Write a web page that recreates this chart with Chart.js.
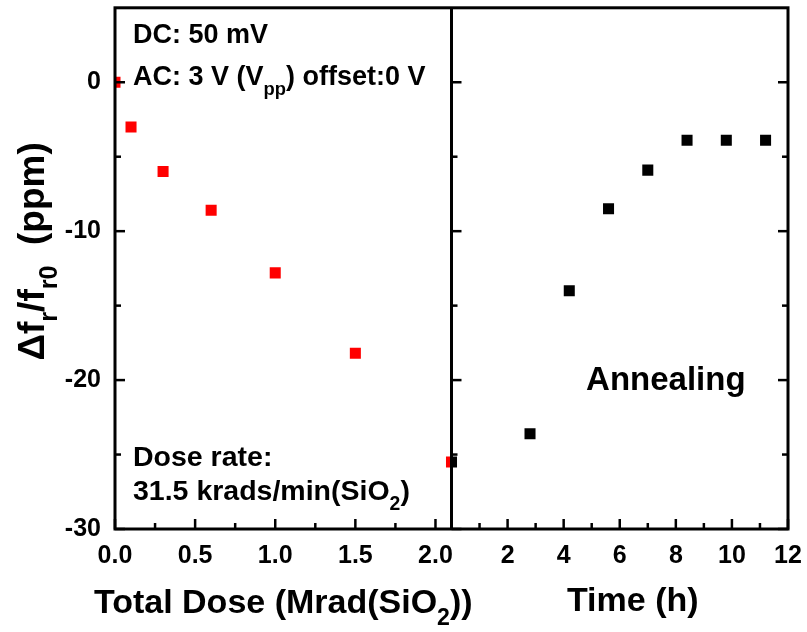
<!DOCTYPE html>
<html><head><meta charset="utf-8">
<script src="https://cdn.jsdelivr.net/npm/chart.js@4.4.0/dist/chart.umd.min.js"></script>
<style>html,body{margin:0;padding:0;background:#fff;} #wrap{width:807px;height:632px;position:relative;}</style>
</head><body><div id="wrap"><canvas id="c" width="807" height="632"></canvas></div>
<script>
// ---- data ----
const doseX = [0, 0.1, 0.3, 0.6, 1.0, 1.5, 2.1];
const doseY = [0, -3.0, -6.0, -8.6, -12.8, -18.2, -25.5];
const timeX = [0, 2.8, 4.2, 5.6, 7.0, 8.4, 9.8, 11.2];
const timeY = [-25.5, -23.6, -14.0, -8.5, -5.9, -3.9, -3.9, -3.9];
const yTicks = [-30, -20, -10, 0];
const yMinorTicks = [-25, -15, -5];
const doseTicks = [0, 0.5, 1.0, 1.5, 2.0];
const doseMinorTicks = [0.25, 0.75, 1.25, 1.75];
const timeTicks = [2, 4, 6, 8, 10, 12];
const timeMinorTicks = [1, 3, 5, 7, 9, 11];

const FONT = "'Liberation Sans', Arial, Helvetica, sans-serif";

function richWidth(ctx, segs, size) {
  let w = 0;
  segs.forEach(s => { ctx.font = `bold ${s.sub ? size * 0.68 : size}px ${FONT}`; w += ctx.measureText(s.t).width; });
  return w;
}
function drawRich(ctx, segs, x, y, size, center) {
  let cx = center ? x - richWidth(ctx, segs, size) / 2 : x;
  ctx.textAlign = 'left'; ctx.textBaseline = 'alphabetic'; ctx.fillStyle = '#000';
  segs.forEach(s => {
    ctx.font = `bold ${s.sub ? size * 0.68 : size}px ${FONT}`;
    ctx.fillText(s.t, cx, s.sub ? y + size * 0.36 : y);
    cx += ctx.measureText(s.t).width;
  });
}

const framePlugin = {
  id: 'frame',
  afterDatasetsDraw(chart) {
    const { ctx, chartArea: a, scales } = chart;
    const y = scales.y, xd = scales.xDose, xt = scales.xTime;
    ctx.save();
    ctx.strokeStyle = '#000'; ctx.lineCap = 'butt';
    const seg = (x1, y1, x2, y2, w) => { ctx.lineWidth = w; ctx.beginPath(); ctx.moveTo(x1, y1); ctx.lineTo(x2, y2); ctx.stroke(); };
    const MAJ = 10, MIN = 6, TW = 2.5;
    const divX = xd.getPixelForValue(xd.max);
    yTicks.forEach(v => { const p = y.getPixelForValue(v);
      seg(a.left, p, a.left + MAJ, p, TW); seg(divX, p, divX + MAJ, p, TW); seg(a.right, p, a.right - MAJ, p, TW); });
    yMinorTicks.forEach(v => { const p = y.getPixelForValue(v);
      seg(a.left, p, a.left + MIN, p, TW); seg(divX, p, divX + MIN, p, TW); seg(a.right, p, a.right - MIN, p, TW); });
    doseTicks.forEach(v => { const p = xd.getPixelForValue(v); seg(p, a.bottom, p, a.bottom - MAJ, TW); });
    doseMinorTicks.forEach(v => { const p = xd.getPixelForValue(v); seg(p, a.bottom, p, a.bottom - MIN, TW); });
    timeTicks.forEach(v => { const p = xt.getPixelForValue(v); seg(p, a.bottom, p, a.bottom - MAJ, TW); });
    timeMinorTicks.forEach(v => { const p = xt.getPixelForValue(v); seg(p, a.bottom, p, a.bottom - MIN, TW); });
    ctx.lineWidth = 3;
    ctx.strokeRect(a.left, a.top, a.right - a.left, a.bottom - a.top);
    seg(divX, a.top, divX, a.bottom, 3);

    // annotations
    const ax = a.left + 18;
    drawRich(ctx, [{ t: 'DC: 50 mV' }], ax, a.top + 35, 27);
    drawRich(ctx, [{ t: 'AC: 3 V (V' }, { t: 'pp', sub: true }, { t: ') offset:0 V' }], ax, a.top + 77, 27);
    drawRich(ctx, [{ t: 'Dose rate:' }], ax, a.top + 458, 28.5);
    drawRich(ctx, [{ t: '31.5 krads/min(SiO' }, { t: '2', sub: true }, { t: ')' }], ax, a.top + 492, 28.5);
    drawRich(ctx, [{ t: 'Annealing' }], xt.getPixelForValue(4.8), a.top + 382, 33);

    // axis titles
    drawRich(ctx, [{ t: 'Total Dose (Mrad(SiO' }, { t: '2', sub: true }, { t: '))' }], (xd.left + xd.right) / 2, 613, 34, true);
    drawRich(ctx, [{ t: 'Time (h)' }], (xt.left + xt.right) / 2 + 13, 611, 34, true);
    ctx.save();
    ctx.translate(44, (a.top + a.bottom) / 2 - 17);
    ctx.rotate(-Math.PI / 2);
    drawRich(ctx, [{ t: '\u0394f' }, { t: 'r', sub: true }, { t: '/f' }, { t: 'r0', sub: true }, { t: '  (ppm)' }], 0, 0, 37, true);
    ctx.restore();
    ctx.restore();
  }
};

const zeroPad = s => { s.paddingTop = 0; s.paddingBottom = 0; s.paddingLeft = 0; s.paddingRight = 0; };
const tickFont = { family: FONT, size: 25, weight: 'bold' };
new Chart(document.getElementById('c').getContext('2d'), {
  type: 'scatter',
  data: {
    datasets: [
      { label: 'Irradiation', data: doseX.map((x, i) => ({ x, y: doseY[i] })), xAxisID: 'xDose', yAxisID: 'y',
        backgroundColor: '#ff0000', borderColor: '#ff0000', pointStyle: 'rect', pointRadius: 7.8, pointHoverRadius: 7.8, borderWidth: 0, clip: 0 },
      { label: 'Annealing', data: timeX.map((x, i) => ({ x, y: timeY[i] })), xAxisID: 'xTime', yAxisID: 'y',
        backgroundColor: '#000000', borderColor: '#000000', pointStyle: 'rect', pointRadius: 7.8, pointHoverRadius: 7.8, borderWidth: 0, clip: 0 }
    ]
  },
  options: {
    responsive: false, animation: false, devicePixelRatio: 1, events: [],
    layout: { padding: { left: 0, top: 5, right: 19, bottom: 0 } },
    plugins: { legend: { display: false }, tooltip: { enabled: false } },
    scales: {
      xDose: {
        type: 'linear', position: 'bottom', stack: 'bottomStack', stackWeight: 1, min: 0, max: 2.1,
        afterBuildTicks: s => { s.ticks = doseTicks.map(v => ({ value: v })); },
        afterFit: s => { s.height = 103; zeroPad(s); },
        grid: { display: false, drawTicks: false }, border: { display: false },
        ticks: { font: tickFont, color: '#000', padding: 12, maxRotation: 0, minRotation: 0, autoSkip: false, callback: v => Number(v).toFixed(1) }
      },
      xTime: {
        type: 'linear', position: 'bottom', stack: 'bottomStack', stackWeight: 1, min: 0, max: 12,
        afterBuildTicks: s => { s.ticks = timeTicks.map(v => ({ value: v })); },
        afterFit: s => { s.height = 103; zeroPad(s); },
        grid: { display: false, drawTicks: false }, border: { display: false },
        ticks: { font: tickFont, color: '#000', padding: 12, maxRotation: 0, minRotation: 0, autoSkip: false, callback: v => String(v) }
      },
      y: {
        type: 'linear', position: 'left', min: -30, max: 5,
        afterBuildTicks: s => { s.ticks = yTicks.map(v => ({ value: v })); },
        afterFit: s => { s.width = 115; zeroPad(s); },
        grid: { display: false, drawTicks: false }, border: { display: false },
        ticks: { font: tickFont, color: '#000', padding: 14, callback: v => String(v) }
      }
    }
  },
  plugins: [framePlugin]
});
</script>
</body></html>
